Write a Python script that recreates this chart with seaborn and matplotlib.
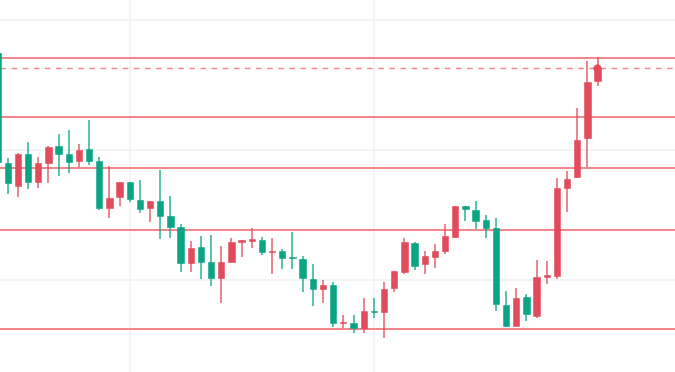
import matplotlib
matplotlib.use("Agg")
import matplotlib.pyplot as plt
import seaborn as sns
import numpy as np
import pandas as pd

# OHLC values (arbitrary price units), one per candle
opens  = [347, 236.7, 214, 245.7, 218.3, 237.3, 254, 245.7, 239.3, 251, 239,
          191.7, 203.3, 217.7, 200, 191.7, 199, 184, 172.7, 137.3, 152.7,
          137.7, 121.7, 137.7, 158.5, 159.5, 160, 147.8, 149, 142.8, 141,
          121, 110.7, 115, 77, 76.7, 71.7, 88.8, 88.3, 111.7, 128.3,
          156.7, 135.7, 143.3, 149.3, 162.7, 194, 190, 180, 171.7, 95,
          74.3, 102.7, 84.3, 123.5, 124, 212.3, 222.7, 261.7, 319.3]
highs  = [348, 241.7, 247.3, 257.7, 242.7, 254, 265.7, 270, 255.7, 280, 243.3,
          233.7, 218, 218, 220, 199.3, 230, 204, 175.7, 159, 164,
          165, 154, 161.7, 160, 171.7, 163.3, 161.7, 150.7, 167.7, 144,
          135.7, 120, 117.7, 85, 85, 101.7, 101.7, 117.7, 129, 162.3,
          157.7, 149, 155.7, 175.7, 194, 194, 199, 185, 181.7, 109,
          111.7, 105.7, 140, 139.3, 221.7, 229, 291.7, 339, 343.3]
lows   = [237, 205.7, 203.3, 210.7, 211.7, 217.3, 224, 227.3, 232.7, 235, 190,
          181.7, 194.3, 197.7, 186.7, 178.3, 160.7, 161.7, 128.3, 128.3, 120.7,
          114, 96.7, 136.7, 143.3, 151.7, 145, 125.7, 130.7, 130.7, 108.3,
          94.3, 97.3, 73.3, 72.3, 66.7, 66.7, 81.7, 62.3, 108.3, 125.7,
          130, 125.7, 132.3, 145.7, 161.7, 179.3, 170.7, 161.7, 89, 73.3,
          74.3, 79, 81.7, 116, 120.7, 188.3, 221.7, 233.3, 314.3]
closes = [238, 217.3, 245.7, 218.3, 236.7, 252.7, 245.7, 238.3, 250, 239.3, 191.7,
          202.3, 217.7, 200.7, 190.7, 199, 184.3, 173.3, 137.3, 152.3, 138.3,
          121.7, 137.7, 157.7, 159.5, 160.5, 148.3, 148.8, 142.3, 141.8, 122.3,
          110.7, 115, 77.3, 78, 71.7, 89, 88, 111, 129, 157.7,
          134.3, 144, 149, 164, 194, 190.7, 179.3, 172.3, 95.7, 74,
          102.3, 85.7, 122.7, 124.5, 211.7, 221, 260, 317.7, 332]

levels = [342, 283, 232, 170, 71]
last_price = 332

df = pd.DataFrame({"open": opens, "high": highs, "low": lows, "close": closes})
df["idx"] = np.arange(len(df))

UP = "#e04c5b"     # rising candles (red)
DOWN = "#0ca584"   # falling candles (green)
LEVEL = "#f28387"

sns.set_theme(style="white")
fig = plt.figure(figsize=(6.75, 3.72), dpi=100)
ax = fig.add_axes([0, 0, 1, 1])
ax.set_facecolor("white")

# grid
for gy in [380, 250, 120]:
    ax.axhline(gy, color="#f1f2f5", lw=1.2, zorder=0)
for gx in [13, 37]:
    ax.axvline(gx, color="#f1f2f5", lw=1.2, zorder=0)

# levels
for lv in levels:
    ax.axhline(lv, color=LEVEL, lw=1.4, zorder=1)
ax.axhline(last_price, color=LEVEL, lw=1.0, ls=(0, (4, 4)), zorder=1)

up = df["close"] >= df["open"]
colors = np.where(up, UP, DOWN)

ax.vlines(df["idx"], df["low"], df["high"], colors=colors, lw=1.2, alpha=0.8, zorder=2)
body_bottom = np.minimum(df["open"], df["close"])
body_h = np.maximum(np.abs(df["close"] - df["open"]), 1.2)
ax.bar(df["idx"], body_h, bottom=body_bottom, width=0.62, color=colors,
       edgecolor=colors, linewidth=0.4, zorder=3)

sns.scatterplot(x=[len(df) - 1 - 0.1], y=[last_price], ax=ax, color=UP, s=30,
                edgecolor=UP, zorder=4, legend=False)

ax.set_xlim(0.243, 66.61)
ax.set_ylim(28, 400)
ax.set_xticks([])
ax.set_yticks([])
for s in ax.spines.values():
    s.set_visible(False)

fig.savefig("out.png", dpi=100)
